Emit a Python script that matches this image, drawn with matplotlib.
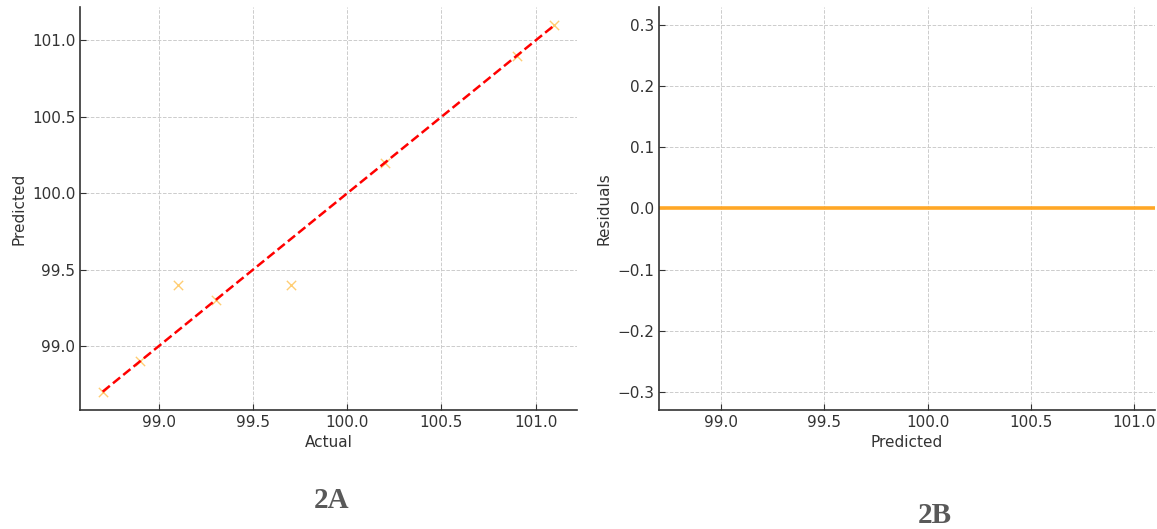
import matplotlib.pyplot as plt

# valores
actual = [98.7, 98.9, 99.1, 99.3, 99.7, 100.2, 100.9, 101.1]
predicted = [98.7, 98.9, 99.4, 99.3, 99.4, 100.2, 100.9, 101.1]
residuals = [0.0, 0.0, 0.0, 0.0, 0.0, 0.0, 0.0, 0.0]
ticks_x = [99.0, 99.5, 100.0, 100.5, 101.0]
ticks_res = [-0.3, -0.2, -0.1, 0.0, 0.1, 0.2, 0.3]

plt.rcParams['font.family'] = 'DejaVu Sans'
plt.rcParams['font.size'] = 11

fig = plt.figure(figsize=(11.57, 5.29), dpi=100)
ax1 = fig.add_axes([0.0692, 0.225, 0.4295, 0.762])
ax2 = fig.add_axes([0.5696, 0.225, 0.4285, 0.762])


def estilo(ax):
    for s in ['top', 'right']:
        ax.spines[s].set_visible(False)
    for s in ['left', 'bottom']:
        ax.spines[s].set_color('#333333')
        ax.spines[s].set_linewidth(1.2)
    ax.tick_params(direction='in', length=4, colors='#333333', labelcolor='#333333', labelsize=11)
    ax.grid(True, linestyle='--', color='#cccccc', linewidth=0.7)
    ax.set_axisbelow(True)


# grafico 2A
estilo(ax1)
ax1.scatter(actual, predicted, marker='x', color='orange', alpha=0.55, s=45, linewidths=1.0)
lo, hi = min(actual), max(actual)
ax1.plot([lo, hi], [lo, hi], 'r--', linewidth=1.8)
ax1.set_xticks(ticks_x)
ax1.set_yticks(ticks_x)
ax1.set_xlabel('Actual', color='#333333', fontsize=11)
ax1.set_ylabel('Predicted', color='#333333', fontsize=11)

# grafico 2B
estilo(ax2)
ordem = sorted(range(len(predicted)), key=lambda i: predicted[i])
ax2.plot([predicted[i] for i in ordem], [residuals[i] for i in ordem], color='#ffa726', linewidth=2.6)
ax2.margins(x=0)
ax2.set_ylim(-0.33, 0.33)
ax2.set_xticks(ticks_x)
ax2.set_yticks(ticks_res)
ax2.set_yticklabels(['\u22120.3', '\u22120.2', '\u22120.1', '0.0', '0.1', '0.2', '0.3'])
ax2.set_xlabel('Predicted', color='#333333', fontsize=11)
ax2.set_ylabel('Residuals', color='#333333', fontsize=11)

fig.text(0.2865, 0.04, '2A', family='Liberation Serif', weight='bold', fontsize=21, color='#595959', ha='center')
fig.text(0.808, 0.012, '2B', family='Liberation Serif', weight='bold', fontsize=21, color='#595959', ha='center')

fig.savefig('out.png', dpi=100)
